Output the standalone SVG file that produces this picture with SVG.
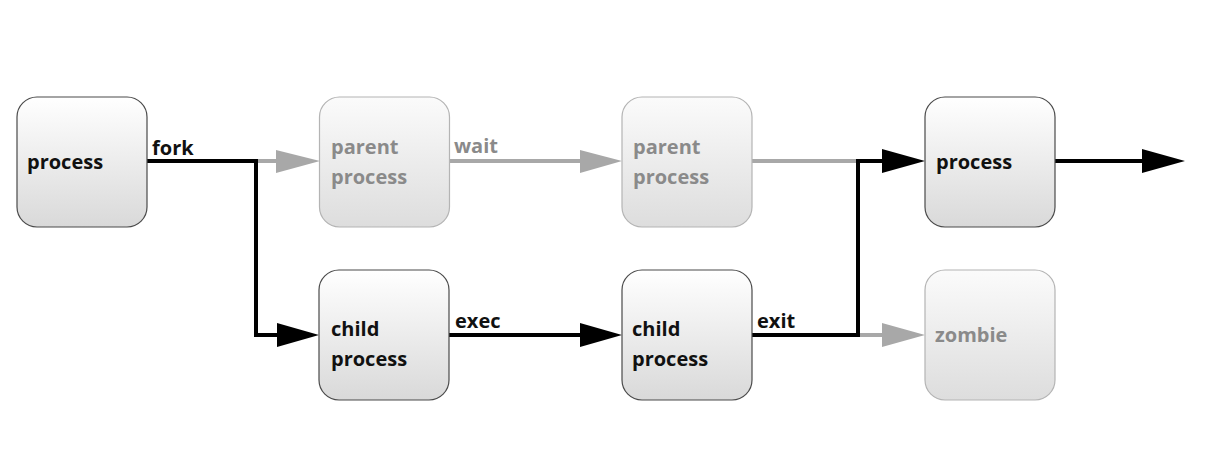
<svg xmlns="http://www.w3.org/2000/svg" width="1209" height="458" viewBox="0 0 1209 458">
<style>
.box{stroke-width:1.2}
.act{stroke:#4a4a4a}
.fad{stroke:#b4b4b4}
text{font-family:"Open Sans","Liberation Sans",sans-serif;font-weight:700;font-size:20px}
.td{fill:#111}
.tg{fill:#8a8a8a}
.lk{fill:none;stroke:#000;stroke-width:4}
.lg{fill:none;stroke:#a8a8a8;stroke-width:4}
.hk{fill:#000}
.hg{fill:#a8a8a8}
</style>
<defs>
<linearGradient id="g" x1="0" y1="0" x2="0" y2="1">
<stop offset="0" stop-color="#ffffff"/>
<stop offset="1" stop-color="#d9d9d9"/>
</linearGradient>
<linearGradient id="gf" x1="0" y1="0" x2="0" y2="1">
<stop offset="0" stop-color="#fbfbfb"/>
<stop offset="1" stop-color="#dddddd"/>
</linearGradient>
</defs>
<rect width="1209" height="458" fill="#fff"/>
<g id="connectors">
<path class="lg" d="M256 161 H280"/>
<polygon class="hg" points="276,150 320,161 276,173"/>
<path class="lg" d="M450 161 H584"/>
<polygon class="hg" points="580,150 622,161 580,173"/>
<path class="lg" d="M752 161 H858"/>
<path class="lk" d="M147 161 H256 V335 H281"/>
<polygon class="hk" points="277,323 319,335 277,347"/>
<path class="lk" d="M449 335 H584"/>
<polygon class="hk" points="580,323 622,335 580,347"/>
<path class="lg" d="M858 335 H886"/>
<polygon class="hg" points="882,323 925,335 882,347"/>
<path class="lk" d="M752 335 H858 V161 H886"/>
<polygon class="hk" points="882,149 925,161 882,173"/>
<path class="lk" d="M1055 161 H1146"/>
<polygon class="hk" points="1142,149 1185,161 1142,173"/>
<text class="td" x="152" y="155">fork</text>
<text class="tg" x="454" y="153">wait</text>
<text class="td" x="455" y="328">exec</text>
<text class="td" x="757" y="328">exit</text>
</g>
<g id="n-process">
<rect class="box act" x="17" y="97" width="130" height="130" rx="20" fill="url(#g)"/>
<text class="td" x="27" y="169">process</text>
</g>
<g id="n-parent1">
<rect class="box fad" x="319.5" y="97" width="130" height="130" rx="20" fill="url(#gf)"/>
<text class="tg" x="331" y="154">parent</text>
<text class="tg" x="331" y="184">process</text>
</g>
<g id="n-parent2">
<rect class="box fad" x="622" y="97" width="130" height="130" rx="20" fill="url(#gf)"/>
<text class="tg" x="633" y="154">parent</text>
<text class="tg" x="633" y="184">process</text>
</g>
<g id="n-process2">
<rect class="box act" x="925" y="97" width="130" height="130" rx="20" fill="url(#g)"/>
<text class="td" x="936" y="169">process</text>
</g>
<g id="n-child1">
<rect class="box act" x="319" y="270" width="130" height="130" rx="20" fill="url(#g)"/>
<text class="td" x="331" y="336">child</text>
<text class="td" x="331" y="366">process</text>
</g>
<g id="n-child2">
<rect class="box act" x="622" y="270" width="130" height="130" rx="20" fill="url(#g)"/>
<text class="td" x="632" y="336">child</text>
<text class="td" x="632" y="366">process</text>
</g>
<g id="n-zombie">
<rect class="box fad" x="925" y="270" width="130" height="130" rx="20" fill="url(#gf)"/>
<text class="tg" x="935" y="342">zombie</text>
</g>
</svg>
